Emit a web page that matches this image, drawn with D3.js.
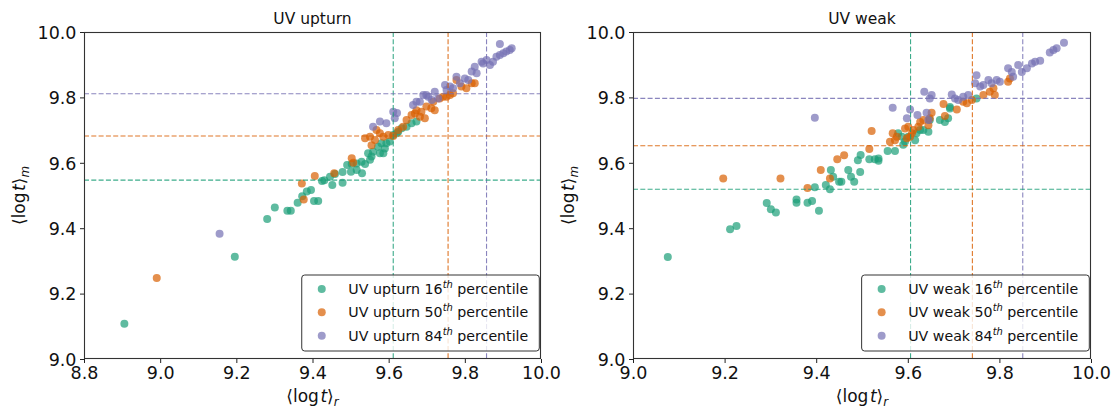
<!DOCTYPE html>
<html><head><meta charset="utf-8">
<script src="https://cdn.jsdelivr.net/npm/d3@7"></script>
<style>body{margin:0;background:#fff} svg{display:block} text{font-family:"DejaVu Sans",sans-serif}</style>
</head><body><svg id="c" width="1115" height="415"></svg>
<script>
// ---------- data ----------
const percentiles = ["16", "50", "84"];
const seriesColors = ["#1b9e77", "#d95f02", "#7570b3"];

const upturnTicksX = [8.8, 9.0, 9.2, 9.4, 9.6, 9.8, 10.0];
const weakTicksX = [9.0, 9.2, 9.4, 9.6, 9.8, 10.0];
const ticksY = [9.0, 9.2, 9.4, 9.6, 9.8, 10.0];

const upturn16_r = [8.906, 9.196, 9.281, 9.301, 9.334, 9.343, 9.361, 9.373, 9.385, 9.396, 9.404, 9.415, 9.425, 9.431, 9.452, 9.446, 9.459, 9.479, 9.479, 9.491, 9.503, 9.501, 9.516, 9.529, 9.530, 9.538, 9.546, 9.555, 9.551, 9.559, 9.572, 9.581, 9.590, 9.577, 9.594, 9.603, 9.612, 9.621, 9.625, 9.634, 9.647, 9.660, 9.673, 9.586, 9.516];
const upturn16_m = [9.108, 9.313, 9.428, 9.463, 9.453, 9.453, 9.478, 9.498, 9.512, 9.517, 9.483, 9.483, 9.544, 9.547, 9.532, 9.557, 9.566, 9.539, 9.572, 9.593, 9.596, 9.573, 9.598, 9.603, 9.568, 9.596, 9.629, 9.619, 9.609, 9.634, 9.649, 9.660, 9.644, 9.629, 9.660, 9.665, 9.685, 9.690, 9.695, 9.706, 9.710, 9.721, 9.726, 9.629, 9.578];

const upturn50_r = [8.991, 9.372, 9.377, 9.406, 9.457, 9.503, 9.507, 9.538, 9.551, 9.564, 9.555, 9.568, 9.577, 9.586, 9.599, 9.612, 9.625, 9.638, 9.647, 9.660, 9.669, 9.682, 9.695, 9.673, 9.686, 9.699, 9.721, 9.717, 9.734, 9.752, 9.761, 9.769, 9.778, 9.791, 9.804, 9.818, 9.826, 9.743, 9.712];
const upturn50_m = [9.248, 9.537, 9.488, 9.560, 9.568, 9.614, 9.600, 9.675, 9.680, 9.670, 9.654, 9.700, 9.690, 9.680, 9.685, 9.682, 9.700, 9.710, 9.731, 9.746, 9.751, 9.741, 9.736, 9.761, 9.756, 9.772, 9.761, 9.787, 9.797, 9.802, 9.807, 9.813, 9.853, 9.833, 9.828, 9.843, 9.843, 9.802, 9.767];

const upturn84_r = [9.156, 9.559, 9.577, 9.594, 9.612, 9.616, 9.664, 9.673, 9.691, 9.704, 9.713, 9.721, 9.730, 9.699, 9.682, 9.748, 9.752, 9.769, 9.778, 9.787, 9.800, 9.809, 9.826, 9.831, 9.818, 9.848, 9.857, 9.866, 9.874, 9.883, 9.892, 9.901, 9.909, 9.918, 9.892, 9.923, 9.844, 9.761, 9.622];
const upturn84_m = [9.383, 9.710, 9.726, 9.721, 9.756, 9.736, 9.777, 9.787, 9.807, 9.802, 9.792, 9.817, 9.797, 9.807, 9.787, 9.838, 9.823, 9.828, 9.863, 9.843, 9.858, 9.853, 9.894, 9.874, 9.879, 9.904, 9.914, 9.899, 9.909, 9.924, 9.930, 9.935, 9.940, 9.945, 9.963, 9.950, 9.909, 9.833, 9.752];

const weak16_r = [9.076, 9.212, 9.226, 9.292, 9.301, 9.312, 9.357, 9.357, 9.381, 9.391, 9.397, 9.406, 9.421, 9.430, 9.432, 9.437, 9.450, 9.455, 9.470, 9.476, 9.483, 9.491, 9.497, 9.496, 9.516, 9.528, 9.536, 9.536, 9.556, 9.572, 9.579, 9.587, 9.590, 9.594, 9.601, 9.616, 9.619, 9.627, 9.634, 9.645, 9.648, 9.670, 9.681, 9.688, 9.692, 9.750, 9.692];
const weak16_m = [9.312, 9.397, 9.407, 9.477, 9.458, 9.448, 9.488, 9.478, 9.478, 9.483, 9.525, 9.453, 9.532, 9.519, 9.578, 9.557, 9.542, 9.542, 9.578, 9.557, 9.542, 9.608, 9.624, 9.572, 9.611, 9.611, 9.606, 9.613, 9.636, 9.636, 9.690, 9.680, 9.655, 9.665, 9.680, 9.669, 9.690, 9.700, 9.700, 9.695, 9.731, 9.731, 9.725, 9.736, 9.771, 9.797, 9.766];

const weak50_r = [9.197, 9.322, 9.381, 9.410, 9.430, 9.446, 9.461, 9.516, 9.521, 9.561, 9.567, 9.572, 9.576, 9.594, 9.601, 9.605, 9.609, 9.612, 9.598, 9.623, 9.627, 9.634, 9.645, 9.648, 9.652, 9.678, 9.681, 9.707, 9.721, 9.729, 9.740, 9.765, 9.779, 9.787, 9.790, 9.819, 9.823];
const weak50_m = [9.552, 9.552, 9.523, 9.578, 9.552, 9.611, 9.623, 9.642, 9.697, 9.664, 9.690, 9.669, 9.680, 9.705, 9.710, 9.680, 9.690, 9.700, 9.675, 9.710, 9.725, 9.731, 9.715, 9.736, 9.753, 9.780, 9.743, 9.763, 9.787, 9.782, 9.792, 9.807, 9.817, 9.828, 9.807, 9.848, 9.858];

const weak84_r = [9.397, 9.567, 9.605, 9.598, 9.621, 9.641, 9.645, 9.636, 9.648, 9.652, 9.696, 9.703, 9.710, 9.721, 9.732, 9.750, 9.747, 9.758, 9.765, 9.776, 9.783, 9.794, 9.801, 9.819, 9.827, 9.830, 9.841, 9.849, 9.860, 9.871, 9.878, 9.889, 9.910, 9.918, 9.925, 9.941];
const weak84_m = [9.738, 9.768, 9.763, 9.736, 9.746, 9.753, 9.731, 9.817, 9.797, 9.807, 9.809, 9.797, 9.792, 9.802, 9.807, 9.868, 9.843, 9.833, 9.838, 9.853, 9.843, 9.853, 9.848, 9.889, 9.878, 9.863, 9.899, 9.878, 9.889, 9.904, 9.909, 9.912, 9.937, 9.945, 9.950, 9.967];

// percentile (median) reference lines: 16th, 50th, 84th
const upturnLines_r = [9.612, 9.756, 9.857];
const upturnLines_m = [9.547, 9.682, 9.811];
const weakLines_r = [9.606, 9.741, 9.851];
const weakLines_m = [9.519, 9.652, 9.797];

// ---------- drawing ----------
const svg = d3.select("#c");
const yTop = 32, yBottom = 359;

const panels = [
  {title: "UV upturn", name: "UV upturn", xDom: [8.8, 10.0], xTicks: upturnTicksX, left: 84, right: 541, ylabX: 20,
   series: [[upturn16_r, upturn16_m], [upturn50_r, upturn50_m], [upturn84_r, upturn84_m]],
   vl: upturnLines_r, hl: upturnLines_m},
  {title: "UV weak", name: "UV weak", xDom: [9.0, 10.0], xTicks: weakTicksX, left: 633, right: 1091, ylabX: 569,
   series: [[weak16_r, weak16_m], [weak50_r, weak50_m], [weak84_r, weak84_m]],
   vl: weakLines_r, hl: weakLines_m}
];

function mathLabel(sel, sub) {
  sel.append("tspan").text("\u27E8log");
  sel.append("tspan").attr("font-style", "italic").attr("dx", 1.5).text("t");
  sel.append("tspan").text("\u27E9");
  sel.append("tspan").attr("font-style", "italic").attr("font-size", "0.7em").attr("dy", 4).text(sub);
}

panels.forEach(p => {
  const x = d3.scaleLinear().domain(p.xDom).range([p.left, p.right]);
  const y = d3.scaleLinear().domain([9.0, 10.0]).range([yBottom, yTop]);
  const g = svg.append("g");
  const clipId = "clip" + p.left;
  svg.append("clipPath").attr("id", clipId).append("rect")
    .attr("x", p.left).attr("y", yTop).attr("width", p.right - p.left).attr("height", yBottom - yTop);

  const plot = g.append("g").attr("clip-path", `url(#${clipId})`);
  p.series.forEach((s, i) => {
    const pts = s[0].map((v, k) => [v, s[1][k]]);
    plot.append("g").selectAll("circle").data(pts).join("circle")
      .attr("cx", d => x(d[0])).attr("cy", d => y(d[1])).attr("r", 4)
      .attr("fill", seriesColors[i]).attr("fill-opacity", 0.7);
  });
  p.vl.forEach((v, i) => {
    plot.append("line").attr("x1", x(v)).attr("x2", x(v)).attr("y1", yTop).attr("y2", yBottom)
      .attr("stroke", seriesColors[i]).attr("stroke-opacity", 0.85).attr("stroke-width", 1.1)
      .attr("stroke-dasharray", "5,2.3");
  });
  p.hl.forEach((v, i) => {
    plot.append("line").attr("x1", p.left).attr("x2", p.right).attr("y1", y(v)).attr("y2", y(v))
      .attr("stroke", seriesColors[i]).attr("stroke-opacity", 0.85).attr("stroke-width", 1.1)
      .attr("stroke-dasharray", "5,2.3");
  });

  const fmt = d3.format(".1f");
  const xa = g.append("g").attr("transform", `translate(0,${yBottom})`)
    .call(d3.axisBottom(x).tickValues(p.xTicks).tickFormat(fmt).tickSize(4).tickSizeOuter(0).tickPadding(3));
  const ya = g.append("g").attr("transform", `translate(${p.left},0)`)
    .call(d3.axisLeft(y).tickValues(ticksY).tickFormat(fmt).tickSize(4).tickSizeOuter(0).tickPadding(3.5));
  [xa, ya].forEach(a => {
    a.select(".domain").remove();
    a.selectAll(".tick line").attr("stroke", "#222");
    a.selectAll("text").attr("font-size", 17.5).attr("fill", "#111").attr("font-family", "DejaVu Sans");
  });
  xa.selectAll("text").attr("dy", "0.76em");
  ya.selectAll("text").attr("dy", "0.36em");

  g.append("rect").attr("x", p.left + 0.5).attr("y", yTop + 0.5)
    .attr("width", p.right - p.left - 1).attr("height", yBottom - yTop - 1)
    .attr("fill", "none").attr("stroke", "#333").attr("stroke-width", 1.1);

  g.append("text").attr("x", (p.left + p.right) / 2).attr("y", 24).attr("text-anchor", "middle")
    .attr("font-size", 15.5).attr("fill", "#111").text(p.title);

  const xl = g.append("text").attr("x", (p.left + p.right) / 2).attr("y", 402).attr("text-anchor", "middle")
    .attr("font-size", 17).attr("fill", "#111");
  mathLabel(xl, "r");
  const yl = g.append("text").attr("transform", `translate(${p.ylabX},${(yTop + yBottom) / 2}) rotate(-90)`)
    .attr("text-anchor", "middle").attr("font-size", 17).attr("fill", "#111").attr("dy", "0.3em");
  mathLabel(yl, "m");

  const lg = g.append("g");
  const box = lg.append("rect").attr("rx", 3).attr("ry", 3)
    .attr("fill", "#fff").attr("fill-opacity", 0.8).attr("stroke", "#333").attr("stroke-width", 1);
  const rowsY = [289, 312.3, 335.7];
  const texts = [];
  percentiles.forEach((pc, i) => {
    const t = lg.append("text").attr("y", rowsY[i] + 5).attr("font-size", 14.2).attr("fill", "#111");
    t.append("tspan").text(`${p.name} ${pc}`);
    t.append("tspan").attr("font-size", "0.7em").attr("font-style", "italic").attr("dy", -6).text("th");
    t.append("tspan").attr("dy", 6).text(" percentile");
    texts.push(t);
  });
  const w = d3.max(texts, t => t.node().getComputedTextLength());
  const boxRight = p.right - 1.7;
  const boxW = w + 46.6 + 11;
  const boxLeft = boxRight - boxW;
  box.attr("x", boxLeft).attr("y", 275).attr("width", boxW).attr("height", 76);
  texts.forEach(t => t.attr("x", boxLeft + 46.6));
  rowsY.forEach((ry, i) => {
    lg.append("circle").attr("cx", boxLeft + 20).attr("cy", ry).attr("r", 4)
      .attr("fill", seriesColors[i]).attr("fill-opacity", 0.7);
  });
});
</script></body></html>
